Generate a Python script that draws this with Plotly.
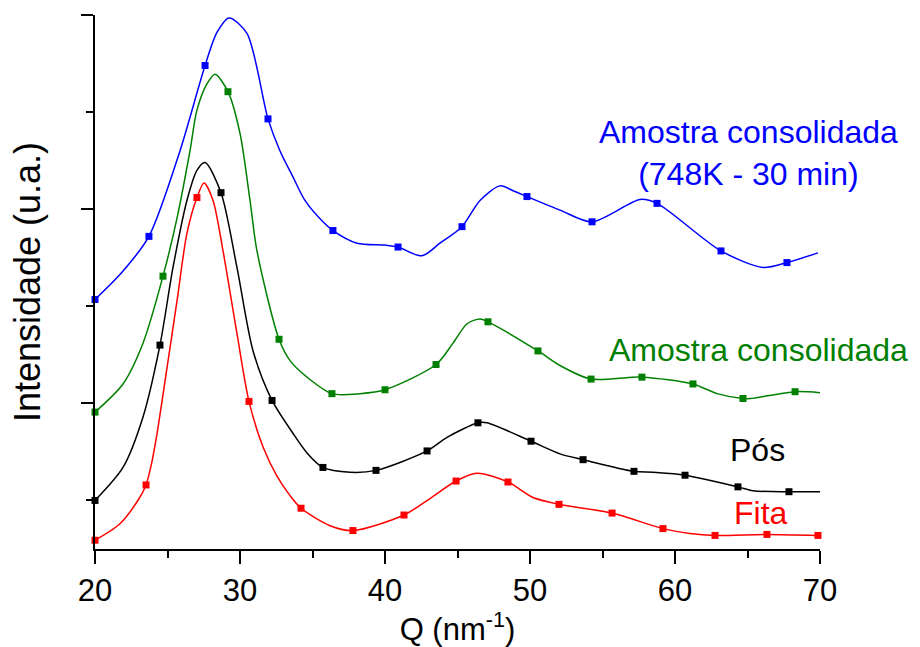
import plotly.graph_objects as go

# Q (nm^-1) and intensity (a.u., offset curves); *_mark flags the symbol points
fita_q = [20.00, 21.72, 23.00, 23.52, 23.90, 24.28, 24.97, 25.66, 26.34, 27.03, 27.52, 28.14,
          28.83, 29.79, 30.62, 31.59, 32.55, 33.45, 34.21, 36.21, 37.79, 41.31, 43.10, 44.90,
          46.34, 48.48, 50.21, 52.00, 55.66, 59.17, 61.03, 62.76, 66.34, 69.86]
fita_i = [-0.41, -0.24, 0.01, 0.16, 0.38, 0.69, 1.37, 2.06, 2.75, 3.12, 3.27, 3.09,
          2.57, 1.72, 1.02, 0.55, 0.25, 0.05, -0.08, -0.26, -0.31, -0.15, 0.02, 0.20,
          0.28, 0.19, 0.03, -0.04, -0.13, -0.29, -0.34, -0.36, -0.35, -0.36]
fita_mark = [1, 0, 0, 1, 0, 0, 0, 0, 0, 1, 0, 0,
             0, 0, 1, 0, 0, 0, 1, 0, 1, 1, 0, 1,
             0, 1, 0, 1, 1, 1, 0, 1, 1, 1]

pos_q = [20.00, 21.93, 23.31, 24.48, 25.38, 26.34, 27.03, 27.59, 28.69, 29.79, 30.90, 32.21,
         33.66, 34.62, 35.72, 37.59, 39.38, 42.90, 44.28, 46.41, 47.03, 50.07, 52.07, 53.66,
         57.17, 58.48, 60.69, 64.34, 65.38, 67.86, 70.00]
pos_i = [0.00, 0.34, 0.86, 1.60, 2.40, 3.09, 3.40, 3.48, 3.17, 2.40, 1.54, 1.03,
         0.69, 0.49, 0.34, 0.29, 0.31, 0.51, 0.65, 0.80, 0.80, 0.61, 0.48, 0.42,
         0.30, 0.29, 0.26, 0.14, 0.10, 0.09, 0.09]
pos_mark = [1, 0, 0, 1, 0, 0, 0, 0, 1, 0, 0, 1,
            0, 0, 1, 0, 1, 1, 0, 1, 0, 1, 0, 1,
            1, 0, 1, 1, 0, 1, 0]

cons_q = [20.00, 21.93, 23.31, 24.69, 25.66, 26.55, 27.03, 27.72, 28.28, 29.17, 30.00,
          30.69, 31.17, 32.69, 33.45, 34.62, 36.34, 38.28, 40.00, 43.52, 44.69, 45.66, 46.55,
          47.10, 50.55, 52.07, 54.21, 57.72, 61.24, 62.90, 64.69, 65.20, 68.28, 70.00]
cons_i = [0.91, 1.20, 1.62, 2.31, 2.91, 3.60, 4.02, 4.29, 4.39, 4.21, 3.78,
          3.09, 2.57, 1.66, 1.44, 1.27, 1.10, 1.10, 1.14, 1.40, 1.62, 1.82, 1.87,
          1.84, 1.54, 1.39, 1.25, 1.27, 1.20, 1.10, 1.05, 1.05, 1.12, 1.11]
cons_mark = [1, 0, 0, 1, 0, 0, 0, 0, 0, 1, 0,
             0, 0, 1, 0, 0, 1, 0, 1, 1, 0, 0, 0,
             1, 1, 0, 1, 1, 1, 0, 1, 0, 1, 0]

k748_q = [20.00, 21.86, 23.72, 25.86, 27.59, 28.41, 29.24, 30.48, 31.93, 32.76, 33.66, 34.48,
          35.72, 36.41, 38.07, 40.00, 40.90, 42.55, 43.79, 45.31, 46.55, 47.93, 48.83, 49.79,
          52.07, 54.28, 57.59, 58.76, 63.17, 66.07, 67.72, 69.86]
k748_i = [2.07, 2.35, 2.72, 3.60, 4.48, 4.82, 4.97, 4.81, 3.93, 3.60, 3.33, 3.09,
          2.87, 2.78, 2.65, 2.63, 2.61, 2.52, 2.65, 2.82, 3.09, 3.24, 3.19, 3.13,
          2.99, 2.87, 3.10, 3.06, 2.57, 2.40, 2.45, 2.55]
k748_mark = [1, 0, 1, 0, 1, 0, 0, 0, 1, 0, 0, 0,
             0, 1, 0, 0, 1, 0, 0, 1, 0, 0, 0, 1,
             0, 1, 0, 1, 1, 0, 1, 0]

x_ticks = [20, 30, 40, 50, 60, 70]

series = [
    ("Fita", fita_q, fita_i, fita_mark, "#ff0000"),
    ("Pós", pos_q, pos_i, pos_mark, "#000000"),
    ("Amostra consolidada", cons_q, cons_i, cons_mark, "#008000"),
    ("Amostra consolidada (748K - 30 min)", k748_q, k748_i, k748_mark, "#0000ff"),
]

fig = go.Figure()
for name, q, inten, mark, color in series:
    fig.add_trace(go.Scatter(
        x=q, y=inten, mode="lines", name=name,
        line=dict(color=color, width=1.5, shape="spline", smoothing=0.8),
        showlegend=False, hoverinfo="skip"))
    mq = [a for a, m in zip(q, mark) if m]
    mi = [b for b, m in zip(inten, mark) if m]
    fig.add_trace(go.Scatter(
        x=mq, y=mi, mode="markers", name=name,
        marker=dict(symbol="square", size=7, color=color, line=dict(width=0)),
        showlegend=False, cliponaxis=False))

font_family = "Liberation Sans, Arial, sans-serif"
labels = [
    ("Amostra consolidada<br>(748K - 30 min)", 65.1, 3.58, "#0000ff"),
    ("Amostra consolidada", 65.75, 1.55, "#008000"),
    ("Pós", 65.66, 0.52, "#000000"),
    ("Fita", 65.9, -0.13, "#ff0000"),
]
for text, x, y, color in labels:
    fig.add_annotation(x=x, y=y, xref="x", yref="y", text=text, showarrow=False,
                       xanchor="center", yanchor="middle", align="center",
                       font=dict(family=font_family, size=32, color=color))

fig.update_xaxes(
    range=[20, 70], tickvals=x_ticks, ticktext=[str(v) for v in x_ticks],
    showline=True, linecolor="black", linewidth=1.5, mirror=False,
    ticks="outside", ticklen=13, tickwidth=1.5, tickcolor="black",
    minor=dict(dtick=5, tick0=20, ticks="outside", ticklen=7, tickwidth=1.5, tickcolor="black"),
    showgrid=False, zeroline=False,
    tickfont=dict(family=font_family, size=31, color="black"),
    title=dict(text="Q (nm<sup>-1</sup>)", font=dict(family=font_family, size=31, color="black"),
               standoff=6),
)
fig.update_yaxes(
    range=[-0.5, 5.0], tick0=1, dtick=2, showticklabels=False,
    showline=True, linecolor="black", linewidth=1.5,
    ticks="outside", ticklen=12, tickwidth=1.5, tickcolor="black",
    minor=dict(dtick=1, tick0=0, ticks="outside", ticklen=7, tickwidth=1.5, tickcolor="black"),
    showgrid=False, zeroline=False,
    title=dict(text="Intensidade (u.a.)", font=dict(family=font_family, size=36, color="black"),
               standoff=30),
)
fig.update_layout(
    width=920, height=647,
    margin=dict(l=95, r=100, t=15, b=98, autoexpand=False),
    plot_bgcolor="white", paper_bgcolor="white",
)

fig.write_html("out.html")
